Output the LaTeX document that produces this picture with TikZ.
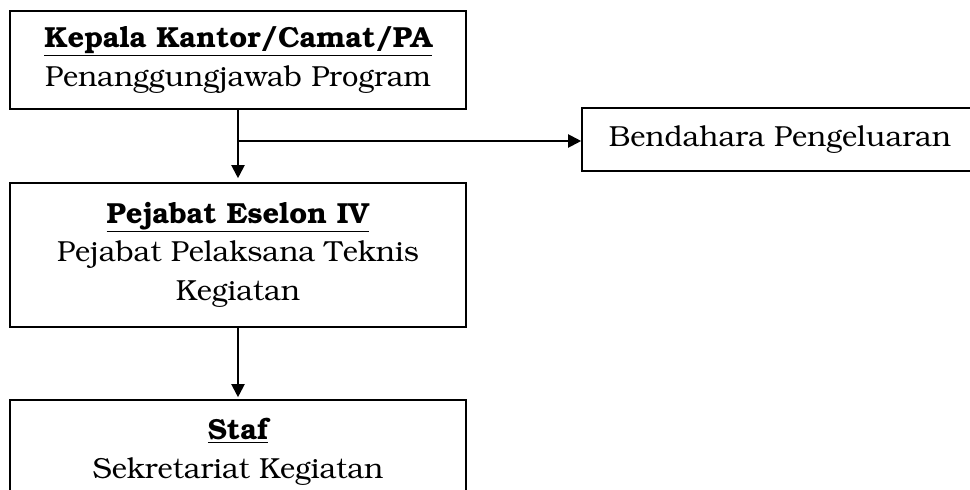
\documentclass[tikz,border=0pt]{standalone}
\usepackage[T1]{fontenc}
\usepackage{bookman}
\usetikzlibrary{arrows.meta}
\tikzset{
  box/.style={draw, line width=1.6pt, align=center, inner sep=0pt,
    font=\fontsize{29}{38.5}\selectfont},
  conn/.style={line width=2pt, -{Triangle[length=13pt,width=13pt]}}
}
\begin{document}
\begin{tikzpicture}[x=1pt,y=-1pt]
\clip (0,0) rectangle (970,490);
\fill[white] (0,0) rectangle (970,490);
\node[box, minimum width=456pt, minimum height=98pt] (k) at (238,60)
  {\textbf{\underline{Kepala Kantor/Camat/PA}}\\Penanggungjawab Program};
\node[box, minimum width=456pt, minimum height=144pt] (p) at (238,255)
  {\textbf{\underline{Pejabat Eselon IV}}\\Pejabat Pelaksana Teknis\\Kegiatan};
\node[box, minimum width=396pt, minimum height=63pt] (b) at (780,139.5)
  {Bendahara Pengeluaran};
\node[box, minimum width=456pt, minimum height=104pt] (s) at (238,452)
  {\textbf{\underline{Staf}}\\Sekretariat Kegiatan};
\coordinate (j) at (238,141);
\draw[conn] (k.south) -- ([yshift=4pt]p.north);
\draw[conn] (j) -- (j -| b.west);
\draw[conn] (p.south) -- ([yshift=2pt]s.north);
\end{tikzpicture}
\end{document}
